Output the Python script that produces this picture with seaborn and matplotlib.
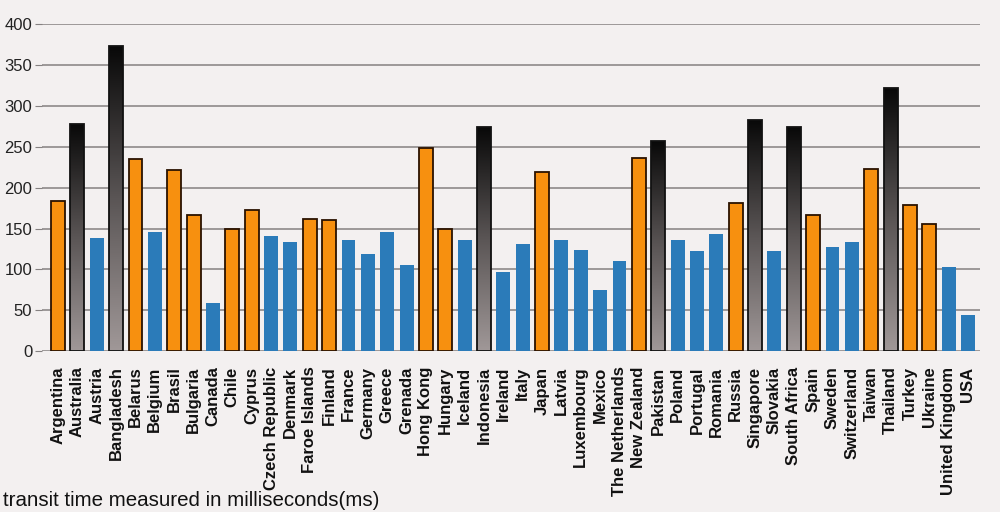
import numpy as np
import seaborn as sns
import matplotlib.pyplot as plt
from matplotlib.colors import LinearSegmentedColormap

countries = ['Argentina', 'Australia', 'Austria', 'Bangladesh', 'Belarus', 'Belgium',
             'Brasil', 'Bulgaria', 'Canada', 'Chile', 'Cyprus', 'Czech Republic',
             'Denmark', 'Faroe Islands', 'Finland', 'France', 'Germany', 'Greece',
             'Grenada', 'Hong Kong', 'Hungary', 'Iceland', 'Indonesia', 'Ireland',
             'Italy', 'Japan', 'Latvia', 'Luxembourg', 'Mexico', 'The Netherlands',
             'New Zealand', 'Pakistan', 'Poland', 'Portugal', 'Romania', 'Russia',
             'Singapore', 'Slovakia', 'South Africa', 'Spain', 'Sweden', 'Switzerland',
             'Taiwan', 'Thailand', 'Turkey', 'Ukraine', 'United Kingdom', 'USA']

transit_ms = [184, 278, 139, 373, 235, 146, 222, 167, 59, 150, 173, 141,
              134, 162, 160, 136, 119, 146, 106, 249, 150, 136, 274, 97,
              131, 219, 136, 124, 75, 110, 236, 257, 136, 123, 143, 181,
              283, 123, 274, 166, 128, 133, 223, 322, 179, 155, 103, 44]

# speed group for each country: fast (blue), medium (orange), slow (dark gradient)
group = ['mid', 'slow', 'fast', 'slow', 'mid', 'fast', 'mid', 'mid', 'fast', 'mid',
         'mid', 'fast', 'fast', 'mid', 'mid', 'fast', 'fast', 'fast', 'fast', 'mid',
         'mid', 'fast', 'slow', 'fast', 'fast', 'mid', 'fast', 'fast', 'fast', 'fast',
         'mid', 'slow', 'fast', 'fast', 'fast', 'mid', 'slow', 'fast', 'slow', 'mid',
         'fast', 'fast', 'mid', 'slow', 'mid', 'mid', 'fast', 'fast']

y_ticks = [0, 50, 100, 150, 200, 250, 300, 350, 400]

face = {'fast': '#2b7bb9', 'mid': '#f7900f', 'slow': '#555050'}
edge = {'fast': '#2b7bb9', 'mid': '#2a1200', 'slow': '#111111'}
bg = '#f3f0f0'

fig = plt.figure(figsize=(10, 5.12), dpi=100, facecolor=bg)
ax = fig.add_axes([0.042, 0.314, 0.938, 0.639])
ax.set_facecolor(bg)

sns.barplot(x=countries, y=transit_ms, hue=countries,
            palette=[face[g] for g in group], legend=False,
            width=0.72, saturation=1, ax=ax, zorder=3)

# dark-to-grey gradient for the slowest countries
grad_cmap = LinearSegmentedColormap.from_list('slow', ['#a09898', '#5a5555', '#080808'])
grad = np.linspace(0, 1, 256).reshape(-1, 1)
for patch, g in zip(ax.patches, group):
    patch.set_edgecolor(edge[g])
    patch.set_linewidth(1.3 if g != 'fast' else 0)
    if g == 'slow':
        x0, w, h = patch.get_x(), patch.get_width(), patch.get_height()
        im = ax.imshow(grad, extent=[x0, x0 + w, 0, h], origin='lower',
                       cmap=grad_cmap, aspect='auto', zorder=3)
        im.set_clip_path(patch)
        patch.set_facecolor('none')
        patch.set_zorder(4)

ax.set_xlim(-0.83, len(countries) - 0.38)
ax.set_ylim(0, 400)
ax.set_yticks(y_ticks)
ax.yaxis.grid(True, color='#858181', linewidth=1.1, zorder=0)
ax.xaxis.grid(False)
for s in ax.spines.values():
    s.set_visible(False)

ax.tick_params(axis='y', length=5, color='#858181', pad=2, labelsize=12,
               labelcolor='#222222')
ax.tick_params(axis='x', length=0, pad=11)
ax.set_xticks(range(len(countries)))
ax.set_xticklabels(countries, rotation=90, fontsize=12, fontweight='bold',
                   family='Liberation Sans', color='#111111')
for lab in ax.get_yticklabels():
    lab.set_family('Liberation Sans')
ax.set_xlabel('')
ax.set_ylabel('')

fig.text(0.003, 0.012, 'transit time measured in milliseconds(ms)',
         fontsize=14.8, family='Liberation Sans', color='#111111')

fig.savefig('out.png', dpi=100, facecolor=bg)
